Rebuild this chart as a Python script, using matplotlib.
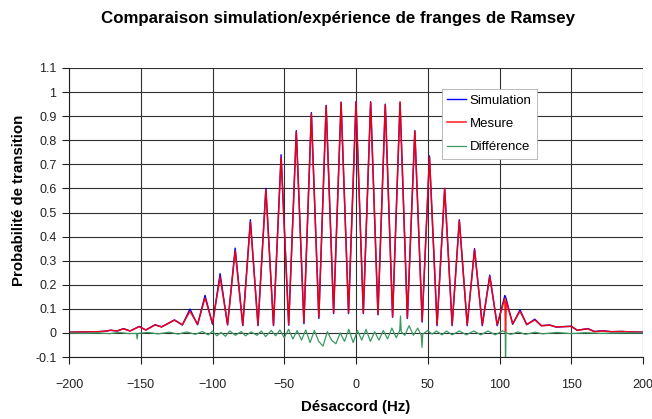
import matplotlib
matplotlib.use("Agg")
import matplotlib.pyplot as plt

plt.rcParams['font.family'] = ['Liberation Sans', 'DejaVu Sans']

# frequency points (Hz): fringe peaks and troughs
freq = [-200, -190, -180, -175, -171, -166.5, -162, -157.5, -151, -146.5,
        -140, -135.5, -126.5, -121, -115.7, -110.4, -105.2, -100, -94.7, -89.5,
        -84.2, -78.9, -73.6, -68.3, -62.8, -57.5, -52.2, -46.9, -41.6, -36.3,
        -31.1, -25.9, -20.8, -15.6, -10.4, -5.2, 0, 5.1, 10.2, 15.3,
        20.4, 25.5, 30.7, 35.8, 41.0, 46.1, 51.2, 56.5, 61.8, 67.0,
        72.0, 77.5, 82.6, 88.0, 93.2, 98.4, 103.7, 104.2, 104.7, 109.2,
        114.3, 119.0, 124.6, 129.2, 135.0, 139.5, 150.0, 154.2, 161.5, 166.3,
        172.0, 178, 185, 192, 200]

simulation = [0.003, 0.004, 0.005, 0.007, 0.011, 0.008, 0.018, 0.008, 0.027, 0.012,
              0.034, 0.025, 0.054, 0.033, 0.099, 0.034, 0.156, 0.036, 0.246, 0.033,
              0.352, 0.030, 0.470, 0.030, 0.600, 0.030, 0.740, 0.032, 0.840, 0.038,
              0.915, 0.060, 0.945, 0.080, 0.958, 0.080, 0.960, 0.080, 0.960, 0.075,
              0.950, 0.065, 0.955, 0.060, 0.840, 0.045, 0.735, 0.030, 0.600, 0.030,
              0.470, 0.030, 0.350, 0.030, 0.240, 0.030, 0.155, 0.150, 0.140, 0.036,
              0.096, 0.034, 0.057, 0.030, 0.033, 0.024, 0.028, 0.011, 0.018, 0.006,
              0.009, 0.005, 0.006, 0.004, 0.003]

mesure = [0.003, 0.004, 0.005, 0.007, 0.011, 0.008, 0.017, 0.008, 0.026, 0.012,
          0.033, 0.025, 0.053, 0.034, 0.090, 0.036, 0.145, 0.040, 0.232, 0.035,
          0.340, 0.032, 0.460, 0.033, 0.595, 0.033, 0.730, 0.035, 0.835, 0.043,
          0.910, 0.065, 0.943, 0.083, 0.957, 0.083, 0.960, 0.083, 0.958, 0.078,
          0.947, 0.068, 0.960, 0.062, 0.838, 0.050, 0.730, 0.035, 0.600, 0.035,
          0.465, 0.035, 0.345, 0.034, 0.234, 0.034, 0.145, 0.000, 0.130, 0.038,
          0.090, 0.035, 0.054, 0.030, 0.032, 0.025, 0.027, 0.011, 0.017, 0.005,
          0.008, 0.005, 0.006, 0.004, 0.003]

# difference curve, sampled separately (it wiggles faster than the fringes)
freq_diff = [-200, -190, -180, -172, -165, -158, -153, -152.5, -152, -145,
             -138, -130, -124, -118, -112, -107, -103, -100, -97, -94,
             -91, -88, -84, -80, -77, -73, -69, -66, -63, -59,
             -56, -53, -50, -47, -44, -41, -38, -35, -32, -29,
             -26, -23, -20, -17, -14, -11, -8, -5, -2, 1,
             4, 7, 10, 13, 16, 19, 22, 25, 28, 30.5,
             31, 31.5, 34, 37, 40, 43, 45.5, 46, 46.5, 50,
             53, 56, 60, 63, 67, 72, 77, 82, 87, 92,
             97, 102, 104.0, 104.2, 104.5, 108, 113, 118, 125, 130,
             140, 150, 160, 170, 185, 200]

difference = [0.0, -0.002, 0.0, -0.003, 0.002, -0.003, -0.002, -0.025, -0.002, 0.002,
              -0.004, 0.003, -0.005, 0.004, -0.006, 0.006, -0.008, 0.007, -0.012, 0.002,
              -0.014, 0.008, -0.010, 0.006, -0.012, 0.004, -0.010, 0.008, -0.015, 0.010,
              -0.012, 0.012, -0.020, 0.015, -0.025, 0.010, -0.030, 0.012, -0.040, 0.010,
              -0.035, -0.055, 0.005, -0.030, -0.045, 0.000, -0.035, 0.015, -0.040, 0.010,
              -0.030, 0.015, -0.035, 0.005, -0.030, 0.010, -0.025, 0.020, -0.020, 0.010,
              0.070, 0.005, -0.010, 0.030, -0.010, 0.020, -0.010, -0.060, -0.005, 0.010,
              -0.005, 0.008, -0.008, 0.008, -0.008, 0.008, -0.008, 0.008, -0.008, 0.008,
              -0.008, 0.008, 0.005, -0.150, 0.000, -0.006, 0.004, -0.006, 0.003, -0.004,
              0.002, -0.003, 0.001, -0.002, 0.0, 0.0]

x_ticks = [-200, -150, -100, -50, 0, 50, 100, 150, 200]
y_ticks = [-0.1, 0, 0.1, 0.2, 0.3, 0.4, 0.5, 0.6, 0.7, 0.8, 0.9, 1, 1.1]
y_labels = ['-0.1', '0', '0.1', '0.2', '0.3', '0.4', '0.5', '0.6', '0.7', '0.8', '0.9', '1', '1.1']

fig = plt.figure(figsize=(6.52, 4.19), dpi=100)
ax = fig.add_axes([69 / 652, 1 - 357 / 419, (643 - 69) / 652, (357 - 68) / 419])

ax.plot(freq, simulation, color='#0000ff', lw=1.0, label='Simulation')
ax.plot(freq, mesure, color='#ff0000', lw=1.1, alpha=0.9, label='Mesure')
ax.plot(freq_diff, difference, color='#3a9a62', lw=0.9, label='Différence')

ax.set_xlim(-200, 200)
ax.set_ylim(-0.1, 1.1)
ax.set_xticks(x_ticks)
ax.set_yticks(y_ticks)
ax.set_yticklabels(y_labels)
ax.grid(True, color='#303030', lw=0.8)
ax.set_axisbelow(True)

for s in ['top', 'right']:
    ax.spines[s].set_visible(False)
for s in ['left', 'bottom']:
    ax.spines[s].set_color('#202020')
    ax.spines[s].set_linewidth(0.8)
ax.tick_params(direction='out', length=5, width=0.8, color='#202020',
               labelsize=9, labelcolor='#222222')
ax.tick_params(axis='x', pad=11)
ax.tick_params(axis='y', pad=4)

fig.text(338 / 652, 1 - 19 / 419, 'Comparaison simulation/expérience de franges de Ramsey',
         ha='center', va='center', fontsize=12.2, fontweight='bold')
fig.text(356 / 652, 1 - 407 / 419, 'Désaccord (Hz)', ha='center', va='center',
         fontsize=10.8, fontweight='bold')
fig.text(19 / 652, 1 - 200 / 419, 'Probabilité de transition', ha='center', va='center',
         rotation=90, fontsize=10.8, fontweight='bold')

leg = ax.legend(loc='upper left', bbox_to_anchor=(442 / 652, 1 - 89 / 419),
                bbox_transform=fig.transFigure, borderaxespad=0, fontsize=9.5,
                fancybox=False, framealpha=1, edgecolor='#b0b0b0',
                handlelength=1.4, handletextpad=0.3, labelspacing=0.85,
                borderpad=0.4)
leg.get_frame().set_linewidth(0.6)

fig.savefig('out.png', dpi=100)
